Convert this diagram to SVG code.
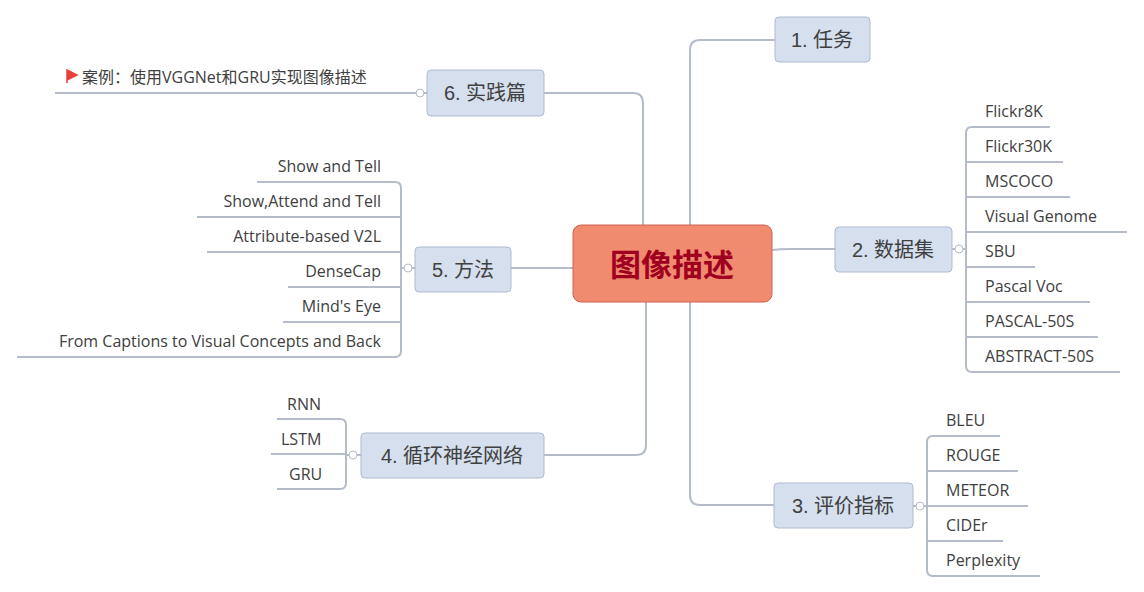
<svg xmlns="http://www.w3.org/2000/svg" width="1144" height="592" viewBox="0 0 1144 592">
<style>
.c{fill:none;stroke:#B4BCCA;stroke-width:2}
.t{fill:#D5DFEE;stroke:#AEBBD0;stroke-width:1}
.tt{font-family:"Liberation Sans","Noto Sans CJK SC",sans-serif;font-size:20px;fill:#404040}
.l{font-family:"Open Sans","Noto Sans CJK SC",sans-serif;font-size:16px;fill:#404040}
.o{fill:#fff;stroke:#B4BCCA;stroke-width:1}
</style>
<rect width="1144" height="592" fill="#fff"/>
<g id="connectors">
<path class="c" d="M690 225V50Q690 40 700 40H775"/>
<path class="c" d="M643 225V103Q643 93 633 93H544"/>
<path class="c" d="M772 250Q780 249 790 249H835"/>
<path class="c" d="M573 268H511"/>
<path class="c" d="M646 302V445Q646 455 636 455H544"/>
<path class="c" d="M690 302V495Q690 505 700 505H774"/>
<path class="c" d="M952 249H966M966 133Q966 127 972 127H1050M966 366Q966 372 972 372H1120M966 133V366M966 162H1063M966 197H1070M966 232H1127M966 267H1035M966 302H1090M966 337H1098"/>
<path class="c" d="M415 268H401M401 188Q401 182 395 182H257M401 351Q401 357 395 357H17M401 188V351M401 217H197M401 252H207M401 287H288M401 322H283"/>
<path class="c" d="M361 455H346M346 425Q346 419 340 419H277M346 483Q346 489 340 489H277M346 425V483M346 454H271"/>
<path class="c" d="M913 506H927M927 442Q927 436 933 436H1000M927 570Q927 576 933 576H1040M927 442V570M927 471H1018M927 506H1028M927 541H1003"/>
<path class="c" d="M427 93H55"/>
<circle class="o" cx="959" cy="249" r="4"/>
<circle class="o" cx="408" cy="268" r="4"/>
<circle class="o" cx="353" cy="455" r="4"/>
<circle class="o" cx="920" cy="506" r="4"/>
<circle class="o" cx="420" cy="93" r="4"/>
</g>
<g id="root">
<rect x="573" y="225" width="199" height="77" rx="8" fill="#F08B70" stroke="#D06050"/>
<text x="672" y="276" text-anchor="middle" font-family="Noto Sans CJK SC,sans-serif" font-weight="bold" font-size="31" fill="#A0001F">图像描述</text>
</g>
<g id="n1"><rect class="t" x="775" y="17" width="95" height="45" rx="4"/><text class="tt" x="822" y="47" text-anchor="middle">1. 任务</text></g>
<g id="n6"><rect class="t" x="427" y="70" width="117" height="46" rx="4"/><text class="tt" x="485" y="100" text-anchor="middle">6. 实践篇</text></g>
<g id="n2"><rect class="t" x="835" y="227" width="117" height="45" rx="4"/><text class="tt" x="893" y="257" text-anchor="middle">2. 数据集</text></g>
<g id="n5"><rect class="t" x="415" y="247" width="96" height="45" rx="4"/><text class="tt" x="463" y="277" text-anchor="middle">5. 方法</text></g>
<g id="n4"><rect class="t" x="361" y="433" width="183" height="45" rx="4"/><text class="tt" x="452" y="463" text-anchor="middle">4. 循环神经网络</text></g>
<g id="n3"><rect class="t" x="774" y="483" width="139" height="45" rx="4"/><text class="tt" x="843" y="513" text-anchor="middle">3. 评价指标</text></g>
<g id="leaves2" class="l">
<text class="l" x="985" y="117">Flickr8K</text><text class="l" x="985" y="152">Flickr30K</text><text class="l" x="985" y="187">MSCOCO</text><text class="l" x="985" y="222">Visual Genome</text><text class="l" x="985" y="257">SBU</text><text class="l" x="985" y="292">Pascal Voc</text><text class="l" x="985" y="327">PASCAL-50S</text><text class="l" x="985" y="362">ABSTRACT-50S</text>
</g>
<g id="leaves5" text-anchor="end">
<text class="l" x="381" y="172">Show and Tell</text><text class="l" x="381" y="207">Show,Attend and Tell</text><text class="l" x="381" y="242">Attribute-based V2L</text><text class="l" x="381" y="277">DenseCap</text><text class="l" x="381" y="312">Mind's Eye</text><text class="l" x="381" y="347">From Captions to Visual Concepts and Back</text>
</g>
<g id="leaves4">
<text class="l" x="287" y="410">RNN</text><text class="l" x="281" y="445">LSTM</text><text class="l" x="289" y="480">GRU</text>
</g>
<g id="leaves3">
<text class="l" x="946" y="426">BLEU</text><text class="l" x="946" y="461">ROUGE</text><text class="l" x="946" y="496">METEOR</text><text class="l" x="946" y="531">CIDEr</text><text class="l" x="946" y="566">Perplexity</text>
</g>
<g id="leaf6">
<path d="M67 70V83M67 70L77 75L67 80Z" fill="#E8403A" stroke="#E8403A" stroke-width="1.5"/>
<text class="l" x="82" y="83" font-size="15">案例：使用VGGNet和GRU实现图像描述</text>
</g>
</svg>
